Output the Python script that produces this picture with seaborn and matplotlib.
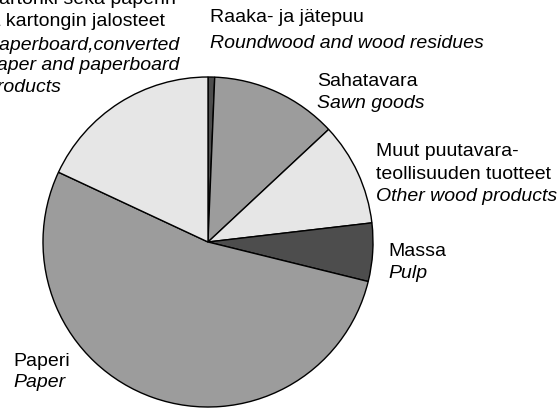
import matplotlib
matplotlib.use("Agg")
import matplotlib.pyplot as plt
import seaborn as sns

sns.set_theme(style="white")
plt.rcParams['font.family'] = ['Liberation Sans', 'DejaVu Sans']

# Shares of exports by product group (%), clockwise from 12 o'clock
categories = ["Raaka- ja jätepuu", "Sahatavara", "Muut puutavarateollisuuden tuotteet",
              "Massa", "Paperi", "Kartonki sekä paperin ja kartongin jalosteet"]
shares = [0.65, 12.4, 10.1, 5.7, 53.1, 18.05]
colors = ["#4d4d4d", "#9c9c9c", "#e6e6e6", "#4d4d4d", "#9c9c9c", "#e6e6e6"]

W, H = 560, 414
fig = plt.figure(figsize=(W / 100, H / 100), dpi=100)
cx, cy, r = 208, 243, 165
ax = fig.add_axes([(cx - r) / W, (H - cy - r) / H, 2 * r / W, 2 * r / H])
ax.pie(shares, colors=colors, startangle=90, counterclock=False, radius=1,
       wedgeprops=dict(edgecolor="black", linewidth=1.0))
ax.set_xlim(-1, 1)
ax.set_ylim(-1, 1)
ax.set_aspect("equal")
ax.axis("off")

# label blocks: (left x px, [(line, y center px, italic)])
labels = [
    (-14, [("Kartonki sekä paperin", 0, False), ("ja kartongin jalosteet", 22, False),
           ("Paperboard,converted", 45, True), ("paper and paperboard", 66, True),
           ("products", 88, True)]),
    (210, [("Raaka- ja jätepuu", 18, False), ("Roundwood and wood residues", 43, True)]),
    (317, [("Sahatavara", 82, False), ("Sawn goods", 103, True)]),
    (376, [("Muut puutavara-", 152, False), ("teollisuuden tuotteet", 175, False),
           ("Other wood products", 197, True)]),
    (388, [("Massa", 252, False), ("Pulp", 273, True)]),
    (13, [("Paperi", 362, False), ("Paper", 383, True)]),
]
for x, lines in labels:
    for txt, y, it in lines:
        fig.text(x / W, 1 - y / H, txt, ha="left", va="center", fontsize=14,
                 style="italic" if it else "normal", color="black")

fig.savefig("out.png", dpi=100)
